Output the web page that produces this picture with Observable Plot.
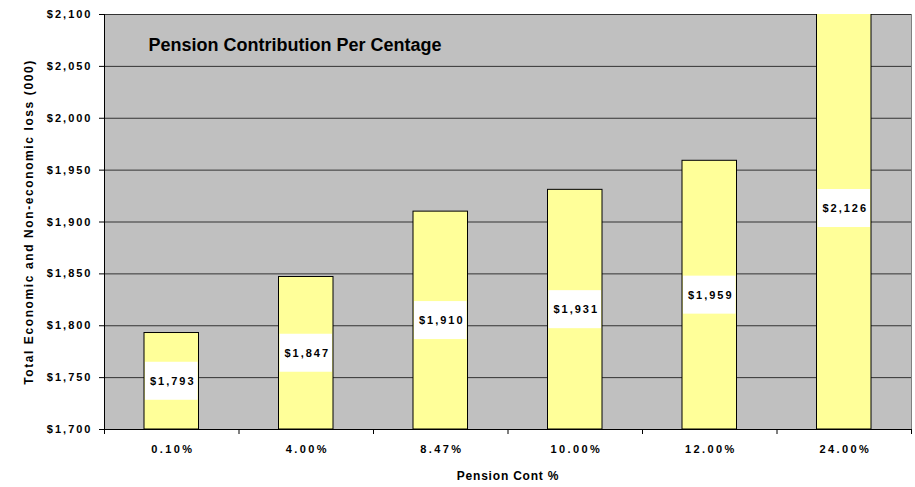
<!DOCTYPE html>
<html><head><meta charset="utf-8">
<script src="https://cdn.jsdelivr.net/npm/d3@7"></script>
<script src="https://cdn.jsdelivr.net/npm/@observablehq/plot@0.6"></script>
<style>
body{margin:0;background:#fff;}
svg{font-family:"Liberation Sans",Arial,sans-serif;}
svg text{font-weight:bold;}
g[aria-label="y-axis tick label"] text{letter-spacing:2px;}
g[aria-label="x-axis tick label"] text{letter-spacing:2.4px;}
g[aria-label="y-axis label"] text{letter-spacing:1.6px;font-size:12px;}
g[aria-label="x-axis label"] text{letter-spacing:0.8px;font-size:12px;}
</style></head><body>
<div id="chart"></div>
<script>
const categories = ["0.10%", "4.00%", "8.47%", "10.00%", "12.00%", "24.00%"];
const values = [1793, 1847, 1910, 1931, 1959, 2126];
const yTicks = [1700, 1750, 1800, 1850, 1900, 1950, 2000, 2050, 2100];
const title = "Pension Contribution Per Centage";
const yLabel = "Total Economic and Non-economic loss (000)";
const xLabel = "Pension Cont %";

const data = categories.map((c, i) => ({cat: c, i, value: values[i], mid: (1700 + values[i]) / 2}));
const fmt = v => "$" + d3.format(",")(v);

const chart = Plot.plot({
  width: 915, height: 487,
  marginLeft: 104, marginRight: 4, marginTop: 14, marginBottom: 58,
  style: {fontFamily: "Liberation Sans, Arial, sans-serif", fontWeight: "bold", fontSize: "11px", background: "#fff", color: "#000"},
  x: {type: "linear", domain: [0, categories.length]},
  y: {domain: [1700, 2100]},
  marks: [
    Plot.frame({fill: "#c0c0c0", stroke: "#808080"}),
    Plot.ruleY(yTicks, {stroke: "#333", strokeWidth: 1}),
    Plot.rectY(data, {x1: d => d.i, x2: d => d.i + 1, y1: 1700, y2: "value", insetLeft: 40, insetRight: 40, fill: "#ffff99", stroke: "#000", strokeWidth: 1, clip: true}),
    Plot.rect(data, {x1: d => d.i, x2: d => d.i + 1, y1: "mid", y2: "mid", insetLeft: 41, insetRight: 41, insetTop: -19, insetBottom: -19, fill: "#fff"}),
    Plot.text(data, {x: d => d.i + 0.5, y: "mid", dx: 1, text: d => fmt(d.value), fontSize: 11, fontWeight: "bold", fill: "#000", ariaLabel: "value label"}),
    Plot.text([title], {frameAnchor: "top-left", dx: 44, dy: 24, text: d => d, fontSize: 18, fontWeight: "bold", fill: "#000", textAnchor: "start"}),
    Plot.axisY({ticks: yTicks, tickFormat: fmt, tickSize: 5, tickPadding: 7, label: yLabel, labelAnchor: "center", labelArrow: "none", labelOffset: 80, fontSize: 11, fontWeight: "bold"}),
    Plot.ruleX([0], {stroke: "#000"}),
    Plot.ruleY([1700], {stroke: "#000"}),
    Plot.axisX({ticks: d3.range(categories.length + 1), tickFormat: () => "", tickSize: 5, label: null}),
    Plot.axisX({ticks: categories.map((c, i) => i + 0.5), tickFormat: v => categories[Math.floor(v)], tickSize: 0, tickPadding: 16, dx: 1, label: xLabel, labelAnchor: "center", labelArrow: "none", labelOffset: 50, fontSize: 11, fontWeight: "bold"})
  ]
});
document.getElementById("chart").appendChild(chart);
d3.select(chart).selectAll("text").filter(function() {
  return values.some(v => this.textContent === fmt(v));
}).style("letter-spacing", "2px");
</script>
</body></html>
